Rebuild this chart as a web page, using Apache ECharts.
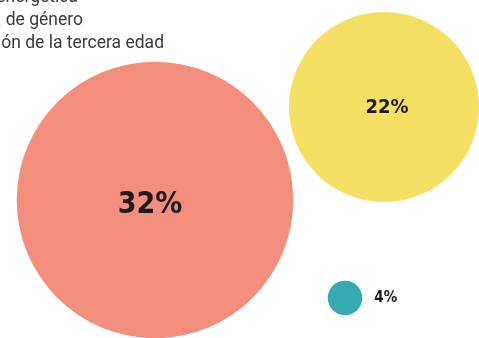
<!DOCTYPE html>
<html><head><meta charset="utf-8">
<script src="https://cdn.jsdelivr.net/npm/echarts@6/dist/echarts.min.js"></script>
<style>html,body{margin:0;padding:0;background:#fff}#c{width:479px;height:338px}</style>
</head><body><div id="c"></div>
<script>
// Data
const categories = ["Pobreza energética", "Violencia de género", "Atención de la tercera edad"];
const values = [32, 22, 4];
const labels = ["32%", "22%", "4%"];

// Layout (bubble packing positions in abstract 479x338 space) and styles
const layoutX = [155, 384, 345];
const layoutY = [200, 107, 298];
const colors = ["#F38D7C", "#F5E064", "#35AAB2"];
const sizeK = 8.64;
const labelFont = [30, 20, 15];
const labelPos = ["inside", "inside", "right"];
const labelOffset = [[-5, 5], [3, 1], [0, 0]];
const legendRight = [78, 83, 164];
const legendY = [7, 30, 53];

const chart = echarts.init(document.getElementById('c'));
const data = values.map((v, i) => ({
  name: categories[i],
  value: [layoutX[i], layoutY[i], v],
  itemStyle: { color: colors[i], opacity: 1 },
  label: {
    show: true,
    position: labelPos[i],
    offset: labelOffset[i],
    distance: 12,
    formatter: labels[i],
    fontFamily: '"DejaVu Sans Condensed", sans-serif',
    fontWeight: 'bold',
    fontSize: labelFont[i],
    color: '#1c1c1c'
  }
}));

chart.setOption({
  animation: false,
  grid: { left: 0, right: 0, top: 0, bottom: 0 },
  xAxis: { type: 'value', min: 0, max: 479, show: false },
  yAxis: { type: 'value', min: 0, max: 338, inverse: true, show: false },
  graphic: categories.map((c, i) => ({
    type: 'text',
    x: legendRight[i],
    y: legendY[i],
    style: {
      text: c,
      align: 'right',
      verticalAlign: 'bottom',
      fontFamily: 'Roboto, sans-serif',
      fontSize: 17.5,
      fill: '#3a3a3a'
    }
  })),
  series: [{
    type: 'scatter',
    symbol: 'circle',
    symbolSize: (val) => val[2] * sizeK,
    data: data,
    silent: true
  }]
});
</script></body></html>
